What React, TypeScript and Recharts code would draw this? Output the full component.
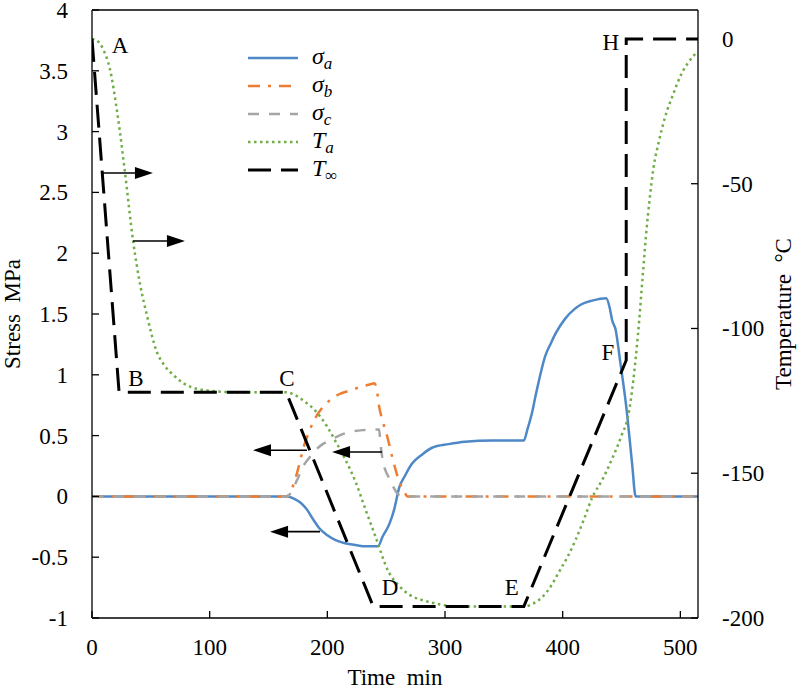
import { LineChart, Line, XAxis, YAxis, ReferenceLine, ReferenceDot, Legend } from 'recharts';

const FONT = "'Liberation Serif', 'DejaVu Serif', serif";

// [time (min), value]
const SIGMA_A: [number, number][] = [
  [0, 0], [166, 0], [172, -0.02], [177, -0.05], [182, -0.1], [188, -0.19], [193, -0.26], [200, -0.32],
  [207, -0.36], [215, -0.385], [224, -0.4], [233, -0.41], [243, -0.41], [247, -0.33], [253, -0.22],
  [257, -0.1], [261, 0.07], [266, 0.17], [272, 0.27], [280, 0.34], [289, 0.4], [303, 0.43], [317, 0.45],
  [340, 0.46], [367, 0.46], [370, 0.55], [374, 0.69], [377, 0.83], [380, 0.96], [385, 1.15], [390, 1.26],
  [394, 1.34], [402, 1.46], [410, 1.54], [416, 1.58], [425, 1.61], [437, 1.63], [440, 1.55], [442, 1.45],
  [445, 1.37], [449, 1.1], [454, 0.74], [459, 0.27], [462, 0], [515, 0],
];

const SIGMA_B: [number, number][] = [
  [0, 0], [166, 0], [168, 0.03], [172, 0.12], [175, 0.22], [180, 0.41], [184, 0.52], [189, 0.63],
  [195, 0.72], [202, 0.79], [210, 0.84], [219, 0.87], [228, 0.9], [236, 0.92], [240, 0.93], [242, 0.88],
  [244, 0.74], [247, 0.62], [251, 0.49], [255, 0.33], [258, 0.22], [262, 0.1], [265, 0.05], [268, 0], [515, 0],
];

const SIGMA_C: [number, number][] = [
  [0, 0], [166, 0], [170, 0.05], [175, 0.15], [179, 0.24], [184, 0.31], [190, 0.38], [196, 0.43],
  [202, 0.46], [210, 0.5], [219, 0.53], [230, 0.545], [244, 0.55], [245, 0.45], [247, 0.3], [250, 0.2],
  [252, 0.16], [256, 0.08], [259, 0.03], [263, 0], [515, 0],
];

const T_A: [number, number][] = [
  [0, 0], [4, -0.5], [10, -4], [15, -10], [22, -27], [28, -46], [35, -70], [41, -85], [47, -96],
  [55, -108], [62, -113], [69, -116], [78, -119], [86, -120.5], [100, -121.5], [120, -122], [165, -122],
  [170, -122.5], [180, -125], [190, -128.5], [200, -134], [207, -139], [215, -145], [224, -153],
  [232, -162], [241, -172], [252, -184], [260, -188.5], [270, -192], [282, -194], [292, -195], [310, -196],
  [368, -196], [375, -195], [382, -193], [390, -189], [397, -184], [404, -179], [411, -173], [418, -166],
  [425, -158.5], [434, -152], [442, -145], [450, -137], [456, -129.5], [460, -118], [464, -102], [468, -82],
  [471, -67], [474, -55], [477, -45], [482, -35], [487, -27], [494, -19], [501, -12], [507, -8], [513, -5],
];

const T_INF: [number, number][] = [
  [0, 0], [23, -122], [165, -122], [239, -196], [367, -196], [454, -111], [454, 0], [515, 0],
];

// arrows: from, to (min), level (MPa)
const ARROWS = [
  { from: 9.3, to: 51.8, y: 2.66 },
  { from: 34.8, to: 79, y: 2.1 },
  { from: 182.7, to: 136.8, y: 0.38 },
  { from: 246.5, to: 204, y: 0.365 },
  { from: 193.8, to: 151.3, y: -0.29 },
];

// point labels (min, MPa)
const POINTS = [
  { name: 'A', x: 23.8, y: 3.71 },
  { name: 'B', x: 37.4, y: 0.97 },
  { name: 'C', x: 165.6, y: 0.97 },
  { name: 'D', x: 253.2, y: -0.75 },
  { name: 'E', x: 356.8, y: -0.75 },
  { name: 'F', x: 438.5, y: 1.18 },
  { name: 'H', x: 441, y: 3.73 },
];

const X_TICKS = [0, 100, 200, 300, 400, 500];
const STRESS_TICKS = [-1, -0.5, 0, 0.5, 1, 1.5, 2, 2.5, 3, 3.5, 4];
const TEMP_TICKS = [-200, -150, -100, -50, 0];

const SERIES = [
  { id: 'sa', sym: 'σ', sub: 'a', data: SIGMA_A, axis: 'left', color: '#4E88C7', dash: undefined, width: 2.5, curve: 'monotone' },
  { id: 'sb', sym: 'σ', sub: 'b', data: SIGMA_B, axis: 'left', color: '#ED7D31', dash: '12 8 3 8', width: 2.5, curve: 'monotone' },
  { id: 'sc', sym: 'σ', sub: 'c', data: SIGMA_C, axis: 'left', color: '#A5A5A5', dash: '11 10', width: 2.5, curve: 'monotone' },
  { id: 'ta', sym: 'T', sub: 'a', data: T_A, axis: 'right', color: '#70AD47', dash: '2.5 3.5', width: 2.5, curve: 'monotone' },
  { id: 'tinf', sym: 'T', sub: '∞', data: T_INF, axis: 'right', color: '#000000', dash: '23 10', width: 3, curve: 'linear' },
];

const toPoints = (arr: [number, number][]) => arr.map(([t, v]) => ({ t, v }));

const Arrow = (p: any) => {
  const { x1, y1, x2, y2 } = p;
  const dir = x2 > x1 ? 1 : -1;
  const bx = x2 - dir * 18;
  return (
    <g>
      <line x1={x1} y1={y1} x2={bx} y2={y2} stroke="#000" strokeWidth={1.6} />
      <polygon points={`${x2},${y2} ${bx},${y2 - 6} ${bx},${y2 + 6}`} fill="#000" />
    </g>
  );
};

const textStyle = { fontFamily: FONT, fontSize: 23, fill: '#000' };

const makeTick = (anchor: 'start' | 'end' | 'middle', dy: number) => (props: any) => (
  <text x={props.x} y={props.y} dy={dy} textAnchor={anchor} style={textStyle}>
    {props.payload.value}
  </text>
);

const makeVTitle = (text: string, side: 'left' | 'right') => (props: any) => {
  const vb = props.viewBox || {};
  const cx = side === 'left' ? vb.x + 12 : vb.x + vb.width - 17;
  const cy = vb.y + vb.height / 2;
  return (
    <text
      x={cx}
      y={cy}
      transform={`rotate(-90 ${cx} ${cy})`}
      textAnchor="middle"
      dominantBaseline="central"
      style={textStyle}
    >
      {text}
    </text>
  );
};

const xTitle = (props: any) => {
  const vb = props.viewBox || {};
  return (
    <text x={vb.x + vb.width / 2} y={vb.y + vb.height - 5} textAnchor="middle" style={textStyle}>
      Time{'\u00a0\u00a0'}min
    </text>
  );
};

const LegendBox = () => (
  <svg width={130} height={150} style={{ display: 'block' }}>
    {SERIES.map((s, i) => {
      const y = 18 + i * 28;
      return (
        <g key={s.id}>
          <line x1={8} x2={58} y1={y} y2={y} stroke={s.color} strokeWidth={s.width} strokeDasharray={s.dash} />
          <text x={72} y={y + 6} style={{ ...textStyle, fontSize: 24 }}>
            <tspan fontStyle="italic">{s.sym}</tspan>
            <tspan fontSize={17} dy={5} fontStyle={s.sub === '∞' ? 'normal' : 'italic'}>{s.sub}</tspan>
          </text>
        </g>
      );
    })}
  </svg>
);

const pointLabel = (name: string) => (props: any) => {
  const vb = props.viewBox || {};
  const cx = vb.x + (vb.width || 0) / 2;
  const cy = vb.y + (vb.height || 0) / 2;
  return (
    <text x={cx} y={cy} textAnchor="middle" dominantBaseline="central" style={textStyle}>
      {name}
    </text>
  );
};

export default function App() {
  return (
    <div style={{ position: 'absolute', left: 0, top: 0, width: 800, height: 690, background: '#fff', fontFamily: FONT }}>
      <LineChart width={800} height={690} margin={{ top: 10, right: 0, bottom: 0, left: 0 }}>
        <XAxis
          dataKey="t"
          type="number"
          domain={[0, 515]}
          ticks={X_TICKS}
          height={72}
          stroke="#000"
          strokeWidth={1.3}
          tickSize={-7}
          tickMargin={28}
          tick={makeTick('middle', 16)}
          allowDataOverflow
          label={{ position: 'insideBottom', content: xTitle }}
        />
        <YAxis
          yAxisId="left"
          domain={[-1, 4]}
          ticks={STRESS_TICKS}
          width={92}
          stroke="#000"
          strokeWidth={1.3}
          tickSize={-7}
          tickMargin={31}
          tick={makeTick('end', 8)}
          allowDataOverflow
          label={{ position: 'insideLeft', content: makeVTitle('Stress\u00a0\u00a0MPa', 'left') }}
        />
        <YAxis
          yAxisId="right"
          orientation="right"
          domain={[-200, 10]}
          ticks={TEMP_TICKS}
          width={102}
          stroke="#000"
          strokeWidth={1.3}
          tickSize={-7}
          tickMargin={31}
          tick={makeTick('start', 8)}
          allowDataOverflow
          label={{ position: 'insideRight', content: makeVTitle('Temperature\u00a0\u00a0°C', 'right') }}
        />
        <ReferenceLine yAxisId="left" y={4} stroke="#000" strokeWidth={1.3} />
        {SERIES.map((s) => (
          <Line
            key={s.id}
            data={toPoints(s.data)}
            dataKey="v"
            name={s.id}
            yAxisId={s.axis}
            type={s.curve as any}
            stroke={s.color}
            strokeWidth={s.width}
            strokeDasharray={s.dash}
            dot={false}
            activeDot={false}
            isAnimationActive={false}
          />
        ))}
        {ARROWS.map((a, i) => (
          <ReferenceLine
            key={i}
            yAxisId="left"
            segment={[{ x: a.from, y: a.y }, { x: a.to, y: a.y }]}
            shape={Arrow}
            ifOverflow="visible"
          />
        ))}
        {POINTS.map((p) => (
          <ReferenceDot
            key={p.name}
            yAxisId="left"
            x={p.x}
            y={p.y}
            r={0}
            fill="none"
            stroke="none"
            label={{ position: 'center', content: pointLabel(p.name) }}
          />
        ))}
        <Legend
          layout="vertical"
          align="center"
          verticalAlign="middle"
          content={<LegendBox />}
          wrapperStyle={{ left: 240, top: 40, width: 130, height: 150 }}
        />
      </LineChart>
    </div>
  );
}
